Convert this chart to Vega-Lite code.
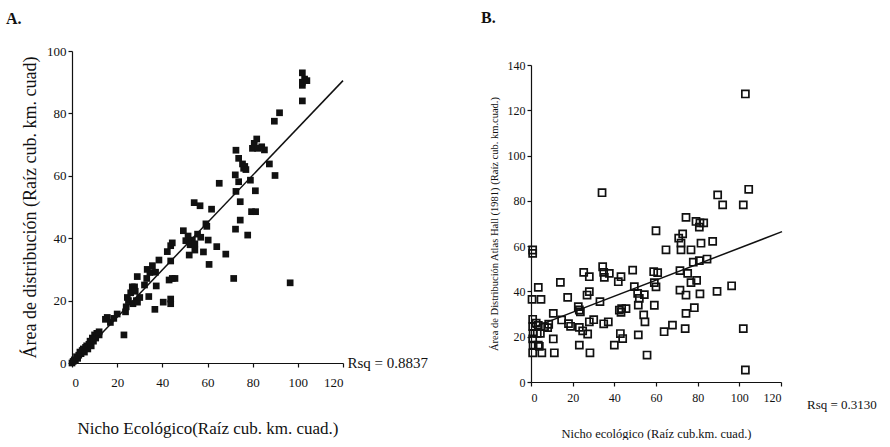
{
  "$schema": "https://vega.github.io/schema/vega-lite/v6.json",
  "background": "white",
  "padding": {"left": 6, "top": 10, "right": 0, "bottom": 0},
  "spacing": 52,
  "config": {
    "view": {"stroke": null},
    "font": "Liberation Serif",
    "axis": {"grid": false, "domainColor": "#111", "tickColor": "#111", "labelColor": "#111", "titleColor": "#111", "labelFont": "Liberation Serif", "titleFont": "Liberation Serif", "titleFontWeight": "normal", "domainWidth": 1.2, "tickWidth": 1.2}
  },
  "datasets": {
    "a": [
      {"x":0,"y":0},{"x":0.5,"y":0.5},{"x":1,"y":1},{"x":1.5,"y":0.8},{"x":2,"y":2},{"x":2.5,"y":1.5},{"x":3,"y":2.5},{"x":3.5,"y":3.5},{"x":4,"y":3},{"x":4.5,"y":4},{"x":5,"y":4.5},{"x":5.5,"y":3.5},{"x":6,"y":5},{"x":6.5,"y":5.5},{"x":7,"y":4.5},{"x":7.5,"y":6},{"x":8,"y":7},{"x":8.5,"y":5.5},{"x":9,"y":8},{"x":9.5,"y":7},{"x":10,"y":9},{"x":10.5,"y":8},{"x":11,"y":9.5},{"x":12,"y":9},{"x":12,"y":10},
      {"x":14.8,"y":14},{"x":15.6,"y":14.6},{"x":17,"y":13},{"x":18.5,"y":14.3},{"x":20,"y":15.7},{"x":23,"y":9},{"x":23.7,"y":16.4},{"x":24,"y":18},{"x":24.5,"y":21},{"x":25,"y":20},{"x":26,"y":22.5},{"x":26.7,"y":24.4},{"x":27.7,"y":24.4},{"x":27,"y":19},{"x":28,"y":23},{"x":28.9,"y":27.7},{"x":28.5,"y":20},{"x":29,"y":19.5},{"x":30,"y":21},
      {"x":32.1,"y":25},{"x":33.1,"y":27.1},{"x":33.3,"y":30},{"x":34.5,"y":29},{"x":34,"y":21.3},{"x":35.6,"y":31.2},{"x":37,"y":29.1},{"x":37.3,"y":24.7},{"x":36.7,"y":17.2},{"x":38.5,"y":33},{"x":40.4,"y":19.5},{"x":42.2,"y":35.7},{"x":43.7,"y":37.6},{"x":44.4,"y":38.5},{"x":43.7,"y":32.7},{"x":43,"y":26.6},{"x":44.4,"y":27.1},{"x":45.6,"y":27.1},{"x":43.7,"y":19},{"x":43.7,"y":20.5},
      {"x":49.3,"y":42.4},{"x":50.4,"y":39.2},{"x":51.4,"y":40.7},{"x":52.3,"y":37.9},{"x":53.3,"y":39.4},{"x":54.4,"y":38.2},{"x":51.9,"y":34.6},{"x":54.4,"y":36.2},{"x":55.6,"y":41.3},{"x":57,"y":40.3},{"x":54.1,"y":51.4},{"x":56.7,"y":50.4},{"x":58.2,"y":35.6},{"x":59.3,"y":44.6},{"x":59.7,"y":43.8},{"x":60.3,"y":39.4},{"x":60.7,"y":31.6},{"x":61.8,"y":49.3},{"x":64.1,"y":37.3},{"x":65.2,"y":57.6},{"x":68.1,"y":34.9},
      {"x":71.6,"y":27.1},{"x":72.3,"y":60.3},{"x":72.4,"y":42.9},{"x":72.6,"y":55},{"x":72.6,"y":68.2},{"x":73.8,"y":58.1},{"x":73.8,"y":65.6},{"x":74.5,"y":51.7},{"x":74.5,"y":45.8},{"x":75.5,"y":63.8},{"x":76,"y":62.4},{"x":76.5,"y":63},{"x":77,"y":62},{"x":77.8,"y":41},{"x":79,"y":58.6},{"x":79.5,"y":48.5},{"x":81.3,"y":48.5},{"x":81.2,"y":55.2},{"x":79.9,"y":68.8},{"x":80.7,"y":70.4},{"x":81.8,"y":71.8},{"x":82.2,"y":68.8},{"x":84,"y":69.3},{"x":85.2,"y":68.3},{"x":87.4,"y":63.8},{"x":89.9,"y":60.1},{"x":89.6,"y":77.5},{"x":91.9,"y":80.2},{"x":96.6,"y":25.7},
      {"x":102,"y":84},{"x":102,"y":89},{"x":102,"y":90},{"x":103,"y":91},{"x":104,"y":90.5},{"x":102,"y":93}
    ],
    "fitA": [{"x":0,"y":-0.5},{"x":120,"y":90.5}],
    "labA": [{"label":"Rsq = 0.8837"}],
    "b": [
      {"x":0.8,"y":58.3},{"x":0.8,"y":56.8},{"x":0.5,"y":36.5},{"x":3.5,"y":41.8},{"x":4.8,"y":36.5},{"x":0.8,"y":27.7},{"x":0.8,"y":24.5},{"x":2.5,"y":26},{"x":3.5,"y":25},{"x":6.5,"y":24.5},{"x":8,"y":24},{"x":8.5,"y":25.5},{"x":1,"y":21.5},{"x":3,"y":21.5},{"x":4.5,"y":21.5},{"x":0.8,"y":19},{"x":10.7,"y":19},{"x":1,"y":16.3},{"x":3.5,"y":16.3},{"x":4,"y":15.7},{"x":0.8,"y":12.9},{"x":5.2,"y":12.9},{"x":11.2,"y":12.9},{"x":10.7,"y":30.3},{"x":14.1,"y":44},{"x":17.6,"y":37.4},{"x":14.7,"y":27.4},{"x":18,"y":25.8},{"x":19,"y":24.6},
      {"x":22.7,"y":33.3},{"x":23.2,"y":31.8},{"x":23.7,"y":31},{"x":23.2,"y":24.1},{"x":24.8,"y":22.6},{"x":27.2,"y":21.2},{"x":23.2,"y":16.3},{"x":25.3,"y":48.4},{"x":28,"y":46.5},{"x":26.9,"y":38.4},{"x":28,"y":39.9},{"x":28,"y":26.6},{"x":30.1,"y":27.5},{"x":28.3,"y":12.9},{"x":33.1,"y":35.5},{"x":34.1,"y":83.6},{"x":34.4,"y":50.9},{"x":34.9,"y":48.4},{"x":35.2,"y":46.2},{"x":37.6,"y":48},{"x":34.9,"y":25.7},{"x":37.1,"y":26.6},{"x":40,"y":16.3},
      {"x":41.9,"y":44.3},{"x":43.2,"y":46.5},{"x":42.4,"y":31.7},{"x":43.5,"y":32.4},{"x":43.2,"y":30.8},{"x":45.6,"y":32.4},{"x":42.9,"y":21.4},{"x":44,"y":19.2},{"x":48.8,"y":49.4},{"x":49.6,"y":42.1},{"x":51.2,"y":39.1},{"x":52,"y":36.9},{"x":51.5,"y":34},{"x":54.4,"y":38.6},{"x":54.1,"y":29.6},{"x":54.7,"y":26.6},{"x":55.7,"y":11.9},{"x":51.5,"y":20.8},{"x":59.2,"y":33.9},{"x":60,"y":42},{"x":58.9,"y":48.7},{"x":60.8,"y":48.3},{"x":59.2,"y":43.9},
      {"x":60,"y":66.8},{"x":64.8,"y":58.4},{"x":63.9,"y":22.2},{"x":67.9,"y":25.1},{"x":70.9,"y":63.5},{"x":72.8,"y":65.4},{"x":72,"y":61.3},{"x":72,"y":58.4},{"x":71.5,"y":49.2},{"x":71.5,"y":40.6},{"x":74,"y":23.6},{"x":74.4,"y":72.7},{"x":74.4,"y":38.4},{"x":74.4,"y":30.3},{"x":75.2,"y":48},{"x":76.8,"y":58.4},{"x":76.8,"y":43.9},{"x":77.9,"y":52.9},{"x":78.4,"y":32.8},{"x":79.2,"y":70.9},{"x":79.5,"y":44.9},{"x":80.8,"y":68.4},{"x":80.8,"y":53.6},{"x":81.1,"y":70.3},{"x":81.1,"y":38.9},{"x":81.6,"y":61.3},{"x":82.9,"y":70.3},{"x":84.5,"y":54.3},{"x":87.2,"y":62.1},{"x":89.3,"y":40},{"x":89.6,"y":82.6},{"x":92,"y":78.2},{"x":96.3,"y":42.5},{"x":101.9,"y":78.2},{"x":101.9,"y":23.6},{"x":102.9,"y":5.3},{"x":102.9,"y":127.2},{"x":104.5,"y":85.1}
    ],
    "fitB": [{"x":0.8,"y":24},{"x":120.5,"y":66.4}],
    "labB": [{"label":"Rsq = 0.3130"}]
  },
  "hconcat": [
    {
      "width": 271,
      "height": 312,
      "title": {"text": "A.", "anchor": "start", "frame": "group", "dx": -66, "offset": 18, "fontSize": 16, "fontWeight": "bold", "font": "Liberation Serif", "color": "#111"},
      "layer": [
        {
          "data": {"name": "a"},
          "mark": {"type": "square", "size": 45, "color": "#111", "opacity": 1},
          "encoding": {
            "x": {"field": "x", "type": "quantitative", "scale": {"domain": [0, 120]}, "axis": {"values": [0,20,40,60,80,100,120], "title": "Nicho Ecológico(Raíz cub. km. cuad.)", "labelFontSize": 13, "titleFontSize": 17, "tickSize": 4, "labelPadding": 9, "titlePadding": 31}},
            "y": {"field": "y", "type": "quantitative", "scale": {"domain": [0, 100]}, "axis": {"values": [0,20,40,60,80,100], "title": "Área de distribución (Raíz cub. km. cuad)", "labelFontSize": 13, "titleFontSize": 18, "tickSize": 4, "titlePadding": 7}}
          }
        },
        {
          "data": {"name": "fitA"},
          "mark": {"type": "line", "color": "#111", "strokeWidth": 1.5},
          "encoding": {"x": {"field": "x", "type": "quantitative"}, "y": {"field": "y", "type": "quantitative"}}
        },
        {
          "data": {"name": "labA"},
          "mark": {"type": "text", "align": "left", "baseline": "middle", "fontSize": 15, "font": "Liberation Serif", "color": "#111"},
          "encoding": {"x": {"datum": 122}, "y": {"datum": 0}, "text": {"field": "label"}}
        }
      ]
    },
    {
      "width": 250,
      "height": 331,
      "title": {"text": "B.", "anchor": "start", "frame": "group", "dx": -50, "offset": 25, "fontSize": 16, "fontWeight": "bold", "font": "Liberation Serif", "color": "#111"},
      "layer": [
        {
          "data": {"name": "b"},
          "mark": {"type": "square", "size": 50, "filled": false, "stroke": "#111", "strokeWidth": 1.7, "opacity": 1},
          "encoding": {
            "x": {"field": "x", "type": "quantitative", "scale": {"domain": [0, 120]}, "axis": {"values": [0,20,40,60,80,100,120], "title": "Nicho ecológico (Raíz cub.km. cuad.)", "labelFontSize": 12, "titleFontSize": 12.5, "tickSize": 4, "labelPadding": 6, "titlePadding": 24}},
            "y": {"field": "y", "type": "quantitative", "scale": {"domain": [0, 140], "range": [331, 14]}, "axis": {"values": [0,20,40,60,80,100,120,140], "title": "Área de Distribución Atlas Hall (1981) (Raíz cub. km.cuad.)", "labelFontSize": 12, "titleFontSize": 10.5, "tickSize": 4, "titlePadding": 8}}
          }
        },
        {
          "data": {"name": "fitB"},
          "mark": {"type": "line", "color": "#111", "strokeWidth": 1.5},
          "encoding": {"x": {"field": "x", "type": "quantitative"}, "y": {"field": "y", "type": "quantitative"}}
        },
        {
          "data": {"name": "labB"},
          "mark": {"type": "text", "align": "left", "baseline": "middle", "fontSize": 13, "font": "Liberation Serif", "color": "#111"},
          "encoding": {"x": {"datum": 132.5}, "y": {"datum": -10}, "text": {"field": "label"}}
        }
      ]
    }
  ]
}
